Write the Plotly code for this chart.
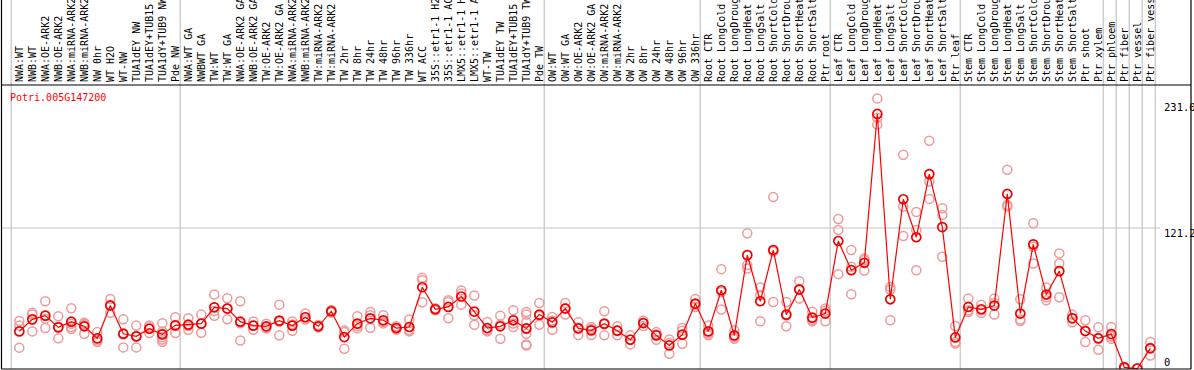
import plotly.graph_objects as go

title = "Potri.005G147200"

labels = [
    "NWA:WT", "NWB:WT", "NWA:OE-ARK2", "NWB:OE-ARK2", "NWA:miRNA-ARK2", "NWB:miRNA-ARK2",
    "NW 0hr", "WT H2O", "WT-NW", "TUA1dEY NW", "TUA1dEY+TUB15 NW", "TUA1dY+TUB9 NW", "Pde NW",
    "NWA:WT GA", "NWBWT GA", "TW:WT", "TW:WT GA", "NWA:OE-ARK2 GA", "NWB:OE-ARK2 GA",
    "TW:OE-ARK2", "TW:OE-ARK2 GA", "NWA:miRNA-ARK2 GA", "NWB:miRNA-ARK2 GA", "TW:miRNA-ARK2",
    "TW:miRNA-ARK2 GA", "TW 2hr", "TW 8hr", "TW 24hr", "TW 48hr", "TW 96hr", "TW 336hr",
    "WT ACC", "35S::etr1-1 H2O", "35S::etr1-1 ACC", "LMX5::etr1-1 H2O", "LMX5::etr1-1 ACC",
    "WT-TW", "TUA1dEY TW", "TUA1dEY+TUB15 TW", "TUA1dY+TUB9 TW", "Pde TW",
    "OW:WT", "OW:WT GA", "OW:OE-ARK2", "OW:OE-ARK2 GA", "OW:miRNA-ARK2", "OW:miRNA-ARK2 GA",
    "OW 2hr", "OW 8hr", "OW 24hr", "OW 48hr", "OW 96hr", "OW 336hr",
    "Root CTR", "Root LongCold", "Root LongDrought", "Root LongHeat", "Root LongSalt",
    "Root ShortCold", "Root ShortDrought", "Root ShortHeat", "Root ShortSalt", "Ptr root",
    "Leaf CTR", "Leaf LongCold", "Leaf LongDrought", "Leaf LongHeat", "Leaf LongSalt",
    "Leaf ShortCold", "Leaf ShortDrought", "Leaf ShortHeat", "Leaf ShortSalt", "Ptr leaf",
    "Stem CTR", "Stem LongCold", "Stem LongDrought", "Stem LongHeat", "Stem LongSalt",
    "Stem ShortCold", "Stem ShortDrought", "Stem ShortHeat", "Stem ShortSalt", "Ptr shoot",
    "Ptr xylem", "Ptr phloem", "Ptr fiber", "Ptr vessel", "Ptr fiber vessel",
]

means = [
    32.0, 42.4, 45.6, 35.5, 40.4, 36.4, 26.0, 54.3, 30.0, 27.7, 34.3, 29.4, 37.2,
    37.8, 38.7, 52.8, 51.7, 40.4, 37.0, 36.4, 41.3, 37.0, 44.2, 36.4, 49.4, 27.1, 38.7,
    43.3, 41.6, 34.9, 35.8, 70.1, 51.1, 53.1, 62.1, 49.1, 34.9, 36.4, 41.6, 34.6, 46.5,
    39.8, 51.7, 34.6, 32.9, 38.7, 32.6, 24.8, 39.2, 28.6, 19.9, 29.2, 56.0,
    32.0, 67.5, 28.6, 97.8, 58.0, 102.2, 46.5, 68.1, 43.9, 47.4,
    110.0, 84.8, 91.2, 219.6, 59.7, 146.0, 113.2, 167.7, 122.0, 26.8,
    53.1, 51.1, 54.3, 150.6, 47.4, 107.1, 63.8, 84.0, 43.3, 32.3, 26.0,
    29.7, 1.0, 0.0, 17.4,
]

replicates = [
    [41, 37, 18], [48, 46.5, 32], [58, 43, 35], [45, 36, 26], [52, 38.5, 35.8, 34],
    [39.5, 38.5, 37.5, 30], [31.4, 24.2, 22.8], [60, 55, 48], [42.4, 29.4, 18.2],
    [37, 28, 18.2], [37.2, 35.5, 30.6], [39, 32, 30, 27, 25, 23], [44.2, 36.8, 30.6],
    [43.3, 36.6, 33.5], [46.5, 38.7, 30.9], [63.8, 49.5, 45.5], [60.6, 52, 42.4],
    [58, 39, 24.2], [40.5, 37, 33.5], [38.7, 36, 34.4], [55.1, 40.2, 28.6],
    [40.5, 38, 32.6], [47.4, 44.2, 42.2], [37.5, 36.4, 35.3], [50.5, 49.4, 48.3],
    [32.9, 31.4, 17], [45, 36.5, 34.6], [48.7, 46, 35.2], [45.9, 40, 38.9],
    [36.4, 34.9, 33.4], [42.2, 33.2, 32], [78.2, 76.2, 57.1], [52, 51, 50.3],
    [58.9, 57.4, 43.3], [67.3, 64.7, 55.1], [62.9, 45.9, 37.8], [40.1, 32.9, 32],
    [45.6, 37.9, 25.7], [50.2, 38.8, 35.8], [48.7, 46.5, 40, 34, 30, 20.8, 19.9],
    [56.5, 45.2, 37.8],
    [44.4, 41.5, 33.5], [56.5, 52.1, 46.5], [39.8, 35.2, 28.8], [35.8, 34, 28.9],
    [49.4, 38.1, 28.6], [36.4, 32.8, 28.6], [28.6, 25, 20.8], [41.5, 39.5, 36.6],
    [31.4, 29.6, 24.8], [25.1, 21.9, 12.7], [34.9, 32.5, 21.4], [60, 54.9, 53.1],
    [37.2, 30.2, 28.6], [85.7, 66, 50.8], [32.9, 27.2, 25.7], [116.6, 89.2, 86.3],
    [69.9, 63.4, 40.7], [148, 101, 57.4], [57.4, 45.7, 36.4], [75.3, 68.7, 60.3],
    [49, 42, 40.7], [51.7, 49.8, 40.7],
    [129, 119.5, 81.4], [102.2, 87.7, 64.1], [95, 93.5, 84.5], [233, 216.2, 210.4],
    [70.4, 68.1, 41.6], [184.4, 139.7, 114.3], [135, 119.5, 84.8], [196.5, 161.3, 146.3],
    [138.3, 132.5, 96.4], [36.6, 22.8, 21.5],
    [60.3, 50.2, 48.8], [55.1, 50.3, 47.9], [60.3, 56.5, 46.5], [171.4, 141.1, 139.7],
    [59.7, 42.2, 41], [125.3, 105, 90.6], [69.9, 61.5, 58.9], [99.3, 90.6, 61.5],
    [46.5, 43.6, 39.8], [41.6, 32.5, 22.8], [35.5, 26.3, 16.2],
    [35.8, 27.6, 25.7], [1.5, 0.8, 0.2], [0.2, 0.1, 0], [22.8, 18, 11.2],
]

# group separators (between sample index boundaries)
group_breaks = [-0.62, 12.38, 40.38, 52.38, 62.38, 72.38, 83.38, 84.38, 85.38, 86.38, 87.38]
y_tick_text = ["231.0", "121.2", "0"]

W, H = 1194, 370
TOP, BOT = 85, 369
MONO = "DejaVu Sans Mono"

xs = list(range(len(labels)))
rx, ry = [], []
for i, reps in enumerate(replicates):
    for v in reps:
        rx.append(i)
        ry.append(v)

fig = go.Figure()
fig.add_trace(go.Scatter(
    x=rx, y=ry, mode="markers",
    marker=dict(symbol="circle-open", size=9, color="#ee9a9a", line=dict(width=1.5)),
    hoverinfo="skip", showlegend=False,
))
fig.add_trace(go.Scatter(
    x=xs, y=means, mode="lines+markers",
    line=dict(color="#ff0000", width=1.2),
    marker=dict(symbol="circle-open", size=9, color="#ee0000", line=dict(width=1.7)),
    showlegend=False,
))

px_per_unit = 13.0
x0 = -19.3 / px_per_unit
x1 = x0 + W / px_per_unit
scale = (368.5 - 228.0) / 121.2
ymax = (368.5 - TOP) / scale
ymin = -(BOT - 368.5) / scale

shapes = []
top_paper = BOT / (BOT - TOP)
for b in group_breaks:
    shapes.append(dict(type="line", xref="x", yref="paper", x0=b, x1=b, y0=0, y1=top_paper + 0.01,
                       line=dict(color="#c4c4c4", width=1.2), layer="below"))
shapes.append(dict(type="line", xref="paper", yref="y", x0=1.5 / W, x1=1160 / W, y0=121.2, y1=121.2,
                   line=dict(color="#c4c4c4", width=1.2), layer="below"))
# borders
for (xa, xb, ya, yb) in [
    (1.5 / W, 1.5 / W, 0, top_paper + 0.01),
    (1191 / W, 1191 / W, 0, top_paper + 0.01),
    (1.5 / W, 1191 / W, 1, 1),
    (1.5 / W, 1191 / W, 0, 0),
]:
    shapes.append(dict(type="line", xref="paper", yref="paper", x0=xa, x1=xb, y0=ya, y1=yb,
                       line=dict(color="black", width=1.2)))

def ypaper(py):
    return (BOT - py) / (BOT - TOP)

annotations = [
    dict(text=title, xref="paper", yref="paper", x=8 / W, y=ypaper(97), xanchor="left",
         yanchor="middle", showarrow=False, font=dict(family=MONO, size=10, color="#ff0000")),
]
label_py = [107, 233, 362]
for t, py in zip(y_tick_text, label_py):
    annotations.append(dict(text=t, xref="paper", yref="paper", x=1162 / W, y=ypaper(py),
                            xanchor="left", yanchor="middle", showarrow=False,
                            font=dict(family=MONO, size=10.5, color="black")))

fig.update_layout(
    width=W, height=H,
    margin=dict(l=0, r=0, t=TOP, b=H - BOT, pad=0),
    paper_bgcolor="white", plot_bgcolor="white",
    xaxis=dict(range=[x0, x1], side="top", tickmode="array", tickvals=xs, ticktext=labels,
               tickangle=-90, tickfont=dict(family=MONO, size=10, color="black"),
               ticks="", showgrid=False, zeroline=False, showline=False, automargin=False,
               ticklabelstandoff=2, fixedrange=True),
    yaxis=dict(range=[ymin, ymax], showticklabels=False, showgrid=False, zeroline=False,
               showline=False, automargin=False, fixedrange=True),
    shapes=shapes,
    annotations=annotations,
    showlegend=False,
)

fig.write_html(
    "out.html",
    config={"displayModeBar": False, "staticPlot": False},
    post_script="document.body.style.margin='0';document.body.style.overflow='hidden';",
)
